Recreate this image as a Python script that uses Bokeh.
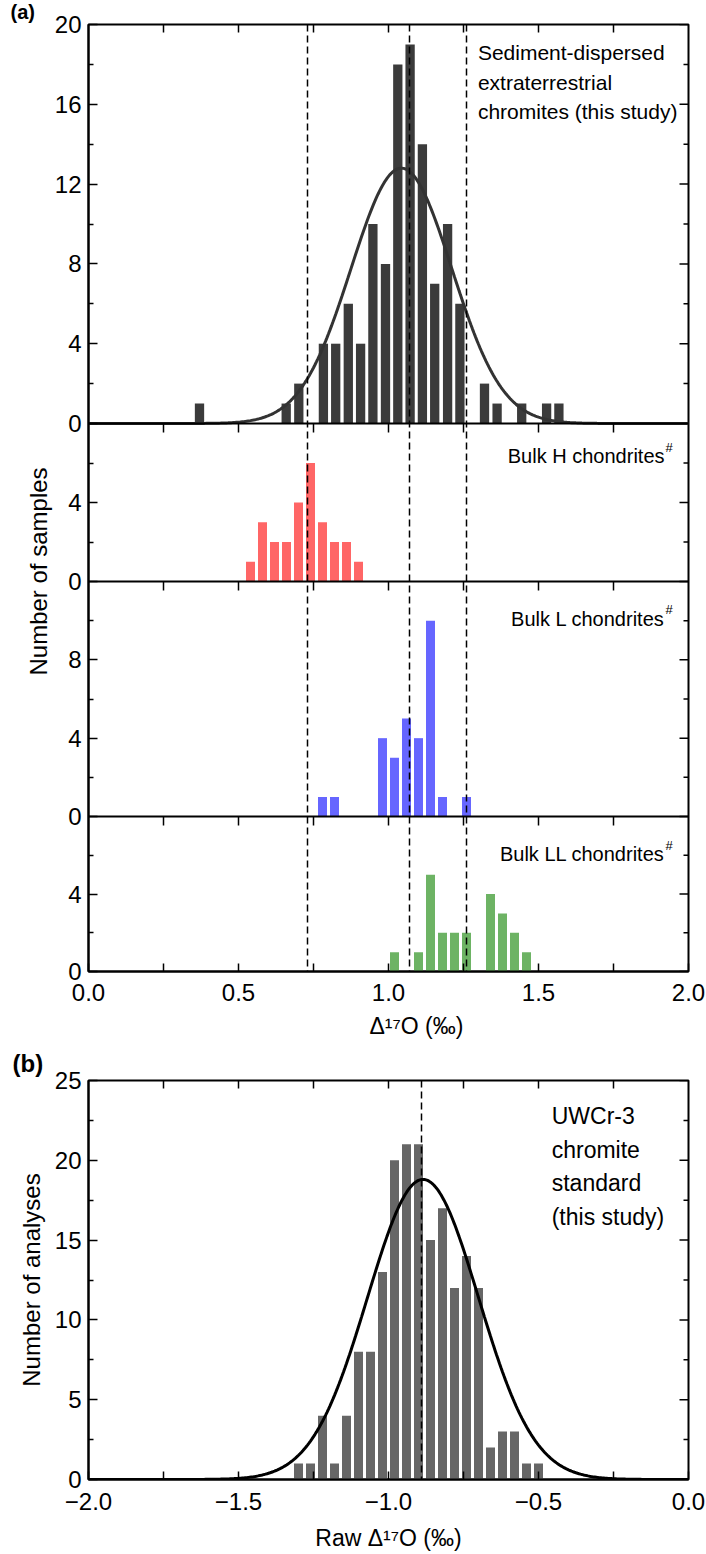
import numpy as np
from bokeh.plotting import figure
from bokeh.models import Range1d, FixedTicker, Span, Label, Title
from bokeh.layouts import column
from bokeh.embed import file_html
from bokeh.resources import INLINE

# ---------------- data: panel (a) ----------------
sed_x = [0.370, 0.659, 0.701, 0.783, 0.824, 0.866, 0.907, 0.948, 0.990, 1.031,
         1.072, 1.113, 1.154, 1.197, 1.238, 1.320, 1.362, 1.444, 1.527, 1.568]
sed_n = [1, 1, 2, 4, 4, 6, 4, 10, 8, 18, 19, 14, 7, 10, 6, 2, 1, 1, 1, 1]
h_x = [0.54, 0.58, 0.62, 0.66, 0.70, 0.74, 0.78, 0.82, 0.86, 0.90]
h_n = [1, 3, 2, 2, 4, 6, 3, 2, 2, 1]
l_x = [0.78, 0.82, 0.98, 1.02, 1.06, 1.10, 1.14, 1.18, 1.26]
l_n = [1, 1, 4, 3, 5, 4, 10, 1, 1]
ll_x = [1.02, 1.10, 1.14, 1.18, 1.22, 1.26, 1.34, 1.38, 1.42, 1.46]
ll_n = [1, 1, 5, 2, 2, 2, 4, 3, 2, 1]
a_dashed = [0.73, 1.07, 1.26]
a_fit_mu, a_fit_sigma, a_fit_peak = 1.043, 0.168, 12.8
a_x_major = [0.0, 0.5, 1.0, 1.5, 2.0]
a_x_labels = ["0.0", "0.5", "1.0", "1.5", "2.0"]
a_x_minor = [0.25, 0.75, 1.25, 1.75]
a_sed_yticks = [0, 4, 8, 12, 16, 20]
a_h_yticks = [0, 4]
a_l_yticks = [0, 4, 8]
a_ll_yticks = [0, 4]

# ---------------- data: panel (b) ----------------
b_x = [-1.30, -1.26, -1.22, -1.18, -1.14, -1.10, -1.06, -1.02, -0.98, -0.94, -0.90,
       -0.86, -0.82, -0.78, -0.74, -0.70, -0.66, -0.62, -0.58, -0.54, -0.50]
b_n = [1, 1, 4, 1, 4, 8, 8, 13, 20, 21, 21, 15, 17, 12, 14, 12, 2, 3, 3, 1, 1]
b_dashed = [-0.89]
b_fit_mu, b_fit_sigma, b_fit_peak = -0.885, 0.185, 18.8
b_x_major = [-2.0, -1.5, -1.0, -0.5, 0.0]
b_x_labels = ["\u22122.0", "\u22121.5", "\u22121.0", "\u22120.5", "0.0"]
b_x_minor = [-1.75, -1.25, -0.75, -0.25]
b_y_major = [0, 5, 10, 15, 20, 25]
b_y_labels = ["0", "5", "10", "15", "20", "25"]
b_y_minor = [2.5, 7.5, 12.5, 17.5, 22.5]

FONT = "Liberation Sans"
TICK_FS = "24px"
TITLE_FS = "23px"
FW = 600
LEFT_B, RIGHT_B = 88, 18

def style_axis(ax, tick_in, minor_in):
    ax.axis_line_width = 2
    ax.axis_line_color = "black"
    ax.major_tick_in = tick_in
    ax.major_tick_out = 0
    ax.major_tick_line_width = 1.5
    ax.minor_tick_in = minor_in
    ax.minor_tick_out = 0
    ax.minor_tick_line_width = 1.5
    ax.major_label_text_font = FONT
    ax.major_label_text_font_size = TICK_FS
    ax.major_label_text_color = "black"
    ax.axis_label_text_color = "black"
    ax.axis_label_text_font = FONT
    ax.axis_label_text_font_style = "normal"

def edge_ticks(p, xs, y_edge, ys, x_edge, length, y_range_name="default"):
    # inward tick marks on the top edge (xs) and on the right edge (ys)
    if xs:
        p.ray(x=xs, y=[y_edge] * len(xs), length=length, length_units="screen",
              angle=-np.pi / 2, line_color="black", line_width=1.5, y_range_name=y_range_name)
    if ys:
        p.ray(x=[x_edge] * len(ys), y=ys, length=length, length_units="screen",
              angle=np.pi, line_color="black", line_width=1.5, y_range_name=y_range_name)

# ================= panel (a) =================
AFH = 947
pA = figure(title=None, frame_width=FW, frame_height=AFH, x_range=Range1d(0, 2),
            y_range=Range1d(0, AFH), output_backend="svg", toolbar_location=None,
            min_border_left=LEFT_B, min_border_right=RIGHT_B, min_border_top=23,
            min_border_bottom=76)
pA.xgrid.visible = False
pA.ygrid.visible = False
pA.outline_line_color = "black"
pA.outline_line_width = 2

# sub-panels: name, bottom offset (px from frame bottom), height (px), y extent, labelled ticks
subpanels = [
    ("sed", 548, 399, 20, a_sed_yticks),
    ("H", 390, 158, 8, a_h_yticks),
    ("L", 155, 235, 12, a_l_yticks),
    ("LL", 0, 155, 8, a_ll_yticks),
]
major_pos, minor_pos, overrides, ppu_of, top_of = [], [], {}, {}, {}
for name, b0, hpx, units, ticks in subpanels:
    ppu = hpx / units
    ppu_of[name] = ppu
    top_of[name] = units
    pA.extra_y_ranges[name] = Range1d(-b0 / ppu, (AFH - b0) / ppu)
    for t in ticks:
        pos = round(b0 + t * ppu, 3)
        major_pos.append(pos)
        overrides[pos] = str(t)
    for t in ticks:
        if t + 2 < units:
            minor_pos.append(round(b0 + (t + 2) * ppu, 3))

yl = pA.yaxis[0]
yl.ticker = FixedTicker(ticks=major_pos, minor_ticks=minor_pos)
yl.major_label_overrides = overrides
style_axis(yl, 9, 5)
yl.major_label_standoff = 7

xb = pA.xaxis[0]
xb.ticker = FixedTicker(ticks=a_x_major, minor_ticks=a_x_minor)
xb.major_label_overrides = {t: s for t, s in zip(a_x_major, a_x_labels)}
style_axis(xb, 8, 8)
xb.major_label_standoff = 12

# top and right inward ticks
edge_ticks(pA, a_x_major[1:-1] + a_x_minor, AFH, [], 2.0, 8)
edge_ticks(pA, [], AFH, major_pos, 2.0, 9)
edge_ticks(pA, [], AFH, minor_pos, 2.0, 5)

# outer texts of panel (a), set as titles around the frame
pA.add_layout(Title(text="\u0394\u00b9\u2077O (\u2030)", align="left", offset=281,
                    text_font=FONT, text_font_size=TITLE_FS, text_font_style="normal",
                    text_color="black", standoff=15), "below")
pA.add_layout(Title(text="Number of samples", align="left", offset=296,
                    text_font=FONT, text_font_size="24px", text_font_style="normal",
                    text_color="black", standoff=0), "left")
pA.add_layout(Title(text="(a)", align="left", offset=-78, vertical_align="top",
                    text_font=FONT, text_font_size="20px", text_font_style="bold",
                    text_color="black", standoff=0), "above")

# bars
pA.vbar(x=sed_x, top=sed_n, width=0.031, y_range_name="sed", fill_color="#3b3b3b", line_color=None)
pA.vbar(x=h_x, top=h_n, width=0.030, y_range_name="H", fill_color="#ff6666", line_color=None)
pA.vbar(x=l_x, top=l_n, width=0.030, y_range_name="L", fill_color="#6666ff", line_color=None)
pA.vbar(x=ll_x, top=ll_n, width=0.030, y_range_name="LL", fill_color="#6db364", line_color=None)

# fitted normal curve
gx = np.linspace(0, 2, 401)
gy = a_fit_peak * np.exp(-0.5 * ((gx - a_fit_mu) / a_fit_sigma) ** 2)
pA.line(gx, gy, y_range_name="sed", line_color="#333333", line_width=3)

# panel separators and their inward ticks
for upper, lower in [("sed", "H"), ("H", "L"), ("L", "LL")]:
    pA.add_layout(Span(location=0, dimension="width", y_range_name=upper,
                       line_color="black", line_width=2))
    edge_ticks(pA, a_x_major[1:-1] + a_x_minor, top_of[lower], [], 2.0, 9, y_range_name=lower)

for v in a_dashed:
    pA.add_layout(Span(location=v, dimension="height", line_color="black",
                       line_width=1.5, line_dash="7 4"))

# texts inside the frame
pA.add_layout(Label(x=1.298, y=19.15, y_range_name="sed",
                    text="Sediment-dispersed\nextraterrestrial\nchromites (this study)",
                    text_font=FONT, text_font_size="21px", text_align="left",
                    text_baseline="top", text_line_height=1.27, text_color="black"))
for name, txt, yv in [("H", "Bulk H chondrites", 6.33), ("L", "Bulk L chondrites", 10.11),
                      ("LL", "Bulk LL chondrites", 6.04)]:
    pA.add_layout(Label(x=1.92, y=yv, y_range_name=name, text=txt, text_font=FONT,
                        text_font_size="20px", text_align="right", text_baseline="middle",
                        text_color="black"))
    pA.add_layout(Label(x=1.92, y=yv + 9 / ppu_of[name], y_range_name=name, x_offset=1,
                        text="#", text_font=FONT, text_font_size="13px", text_align="left",
                        text_baseline="middle", text_color="black"))

# ================= panel (b) =================
pB = figure(title=None, frame_width=FW, frame_height=399, x_range=Range1d(-2, 0),
            y_range=Range1d(0, 25), output_backend="svg", toolbar_location=None,
            min_border_left=LEFT_B, min_border_right=RIGHT_B, min_border_top=33,
            min_border_bottom=75)
pB.xgrid.visible = False
pB.ygrid.visible = False
pB.outline_line_color = "black"
pB.outline_line_width = 2

byl = pB.yaxis[0]
byl.ticker = FixedTicker(ticks=b_y_major, minor_ticks=b_y_minor)
byl.major_label_overrides = {t: s for t, s in zip(b_y_major, b_y_labels)}
style_axis(byl, 9, 5)
byl.major_label_standoff = 7
byl.axis_label = "Number of analyses"
byl.axis_label_text_font_size = "24px"
byl.axis_label_standoff = 7

bxb = pB.xaxis[0]
bxb.ticker = FixedTicker(ticks=b_x_major, minor_ticks=b_x_minor)
bxb.major_label_overrides = {t: s for t, s in zip(b_x_major, b_x_labels)}
style_axis(bxb, 8, 8)
bxb.major_label_standoff = 13
bxb.axis_label = "Raw \u0394\u00b9\u2077O (\u2030)"
bxb.axis_label_text_font_size = TITLE_FS
bxb.axis_label_standoff = 12

edge_ticks(pB, b_x_major[1:-1] + b_x_minor, 25, [], 0.0, 8)
edge_ticks(pB, [], 25, b_y_major, 0.0, 9)
edge_ticks(pB, [], 25, b_y_minor, 0.0, 5)

pB.add_layout(Title(text="(b)", align="left", offset=-76, vertical_align="top",
                    text_font=FONT, text_font_size="24px", text_font_style="bold",
                    text_color="black", standoff=4), "above")

pB.vbar(x=b_x, top=b_n, width=0.030, fill_color="#666666", line_color=None)
bgx = np.linspace(-2, 0, 401)
bgy = b_fit_peak * np.exp(-0.5 * ((bgx - b_fit_mu) / b_fit_sigma) ** 2)
pB.line(bgx, bgy, line_color="black", line_width=3)
for v in b_dashed:
    pB.add_layout(Span(location=v, dimension="height", line_color="black",
                       line_width=1.5, line_dash="7 4"))

pB.add_layout(Label(x=-0.456, y=23.6, text="UWCr-3\nchromite\nstandard\n(this study)",
                    text_font=FONT, text_font_size="23px", text_align="left",
                    text_baseline="top", text_line_height=1.3, text_color="black"))

layout = column(pA, pB, spacing=0)
open("out.html", "w").write(file_html(layout, INLINE))
